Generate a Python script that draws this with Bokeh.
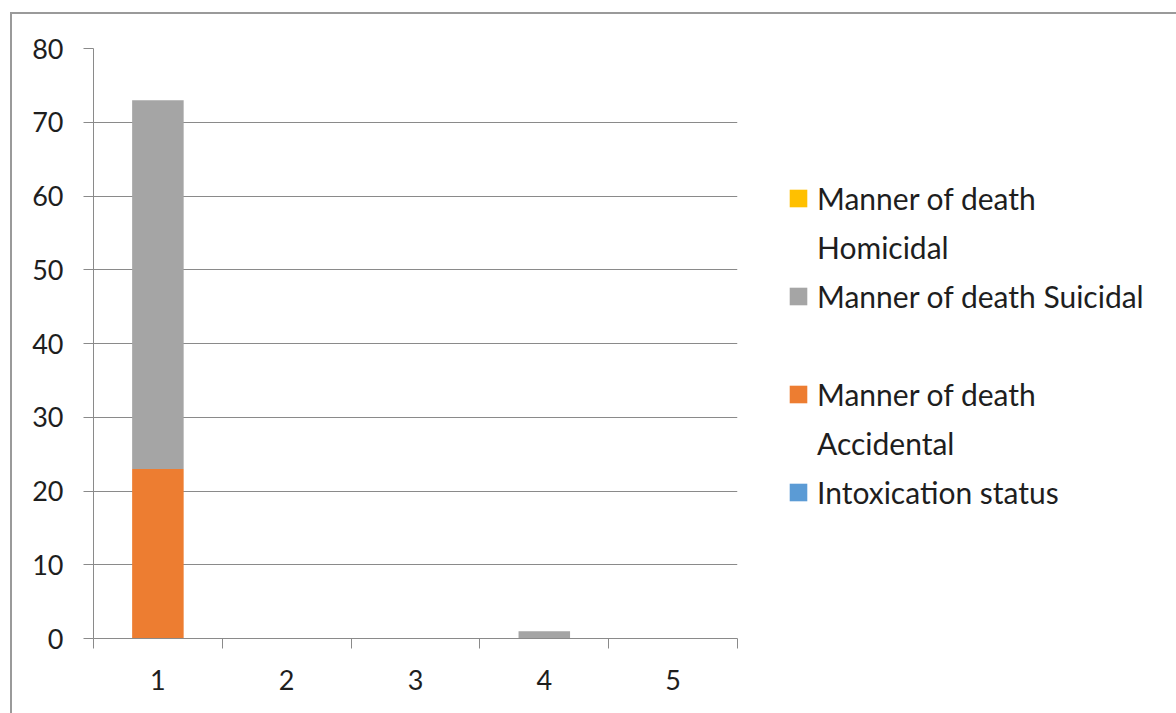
from bokeh.plotting import figure
from bokeh.models import FixedTicker, Legend, LegendItem, ColumnDataSource, Range1d
from bokeh.embed import file_html
from bokeh.resources import INLINE

categories = [1, 2, 3, 4, 5]
intoxication = [0, 0, 0, 0, 0]
accidental = [23, 0, 0, 0, 0]
suicidal = [50, 0, 0, 1, 0]
homicidal = [0, 0, 0, 0, 0]
y_ticks = [0, 10, 20, 30, 40, 50, 60, 70, 80]
keys = ["intoxication", "accidental", "suicidal", "homicidal"]
# legend text, one list of lines per series
labels = [["Intoxication status"], ["Manner of death", "Accidental"],
          ["Manner of death Suicidal"], ["Manner of death", "Homicidal"]]
colors = ["#5B9BD5", "#ED7D31", "#A5A5A5", "#FFC000"]

source = ColumnDataSource(dict(x=categories, intoxication=intoxication,
                               accidental=accidental, suicidal=suicidal,
                               homicidal=homicidal))

FONT = "Lato"
TXT = "#1e1e1e"
GRID = "#8a8a8a"

p = figure(frame_width=644, frame_height=590,
           x_range=Range1d(0.5, 5.5), y_range=Range1d(0, 80),
           output_backend="svg", toolbar_location=None,
           min_border_left=81, min_border_top=34, min_border_bottom=75,
           min_border_right=439)
p.margin = (12, 0, 0, 10)
p.styles = {"border-left": "2px solid #9a9a9a", "border-top": "2px solid #9a9a9a",
            "box-sizing": "border-box"}
p.outline_line_color = None
p.background_fill_color = "white"
p.border_fill_color = "white"

rs = p.vbar_stack(keys, x="x", width=0.4, fill_color=colors, line_color=None,
                  source=source)

# axes
p.xaxis.ticker = FixedTicker(ticks=categories,
                             minor_ticks=[c - 0.5 for c in categories] + [categories[-1] + 0.5])
p.xaxis.major_tick_out = 0
p.xaxis.major_tick_in = 0
p.xaxis.minor_tick_out = 10
p.xaxis.minor_tick_in = 0
p.xaxis.minor_tick_line_color = GRID
p.xaxis.axis_line_color = GRID
p.xaxis.major_label_standoff = 21

p.yaxis.ticker = FixedTicker(ticks=y_ticks)
p.yaxis.major_tick_out = 10
p.yaxis.major_tick_in = 0
p.yaxis.minor_tick_out = 0
p.yaxis.minor_tick_in = 0
p.yaxis.major_tick_line_color = GRID
p.yaxis.axis_line_color = GRID
p.yaxis.major_label_standoff = 20

for ax in (p.xaxis[0], p.yaxis[0]):
    ax.major_label_text_font = FONT
    ax.major_label_text_font_size = "27px"
    ax.major_label_text_color = TXT

p.xgrid.visible = False
p.ygrid.grid_line_color = GRID
p.ygrid.grid_line_width = 1

# legend: one row per text line; glyph only on the first line of each entry
items = []
for i in [3, 2, 1, 0]:
    lines = labels[i]
    items.append(LegendItem(label=lines[0], renderers=[rs[i]]))
    for extra in lines[1:]:
        items.append(LegendItem(label=extra, renderers=[]))
    if i == 2:
        items.append(LegendItem(label=" ", renderers=[]))

legend = Legend(items=items, location=(50, 122), orientation="vertical",
                glyph_width=22, glyph_height=22, label_standoff=8,
                label_text_font=FONT, label_text_font_size="30px",
                label_text_color=TXT, label_height=49,
                padding=0, margin=0, spacing=0,
                border_line_color=None, background_fill_alpha=0)
p.add_layout(legend, "right")

open("out.html", "w").write(file_html(p, INLINE))
